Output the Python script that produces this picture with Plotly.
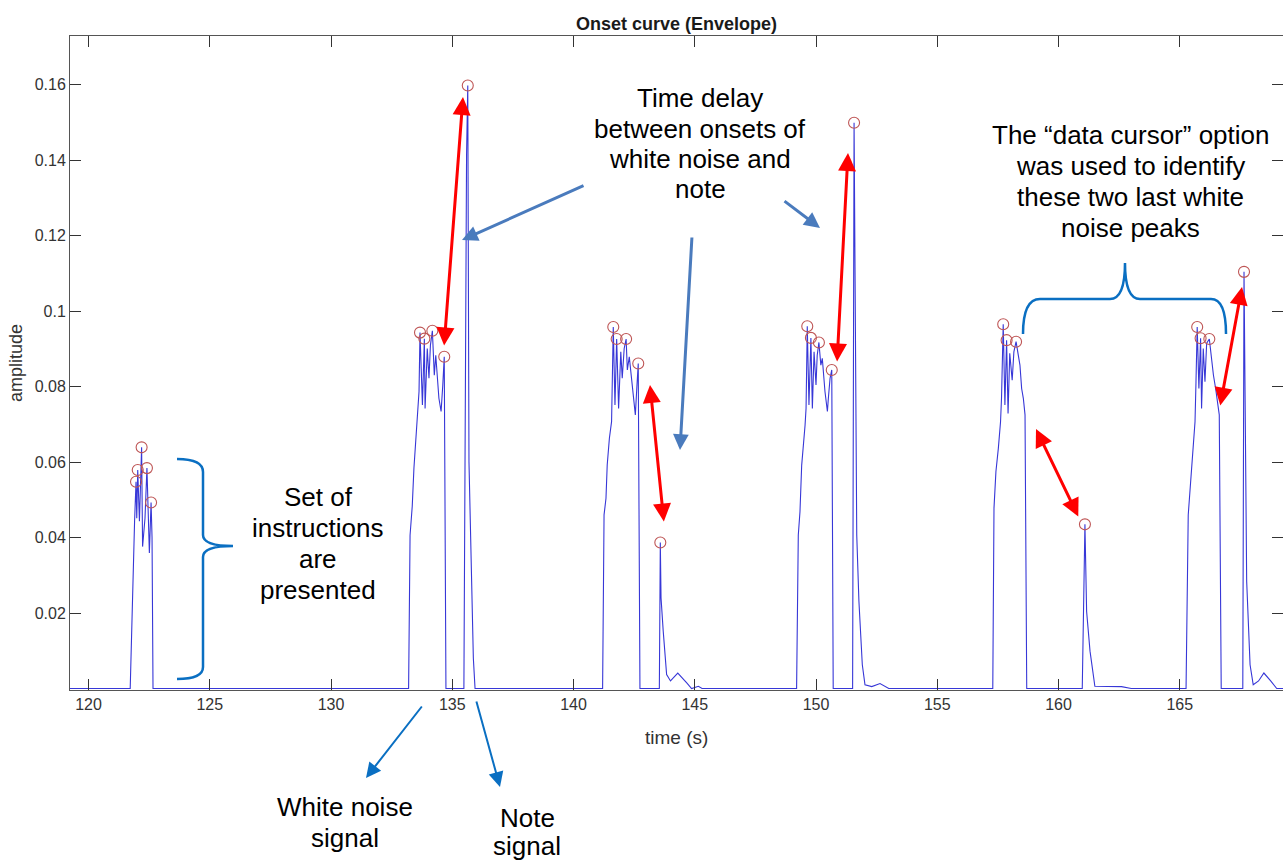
import plotly.graph_objects as go

# ---------------- data ----------------
b1_t = [121.72, 121.90, 121.96, 121.99, 122.03, 122.10, 122.19, 122.23, 122.33, 122.41, 122.47, 122.51, 122.58, 122.62, 122.66]
b1_a = [0.0, 0.0443, 0.0548, 0.0451, 0.0579, 0.0443, 0.0639, 0.0376, 0.0451, 0.0584, 0.0390, 0.0359, 0.0493, 0.0400, 0.0]

b2_t = [133.20, 133.26, 133.35, 133.42, 133.58, 133.63, 133.67, 133.77, 133.85, 133.88, 133.97, 134.04, 134.10, 134.18,
        134.26, 134.32, 134.45, 134.54, 134.61, 134.67, 134.74,
        135.48, 135.59, 135.64, 135.69, 135.75, 135.80, 135.87, 135.94]
b2_a = [0.0, 0.0406, 0.0483, 0.0584, 0.0725, 0.0787, 0.0943, 0.0751, 0.0927, 0.0742, 0.0901, 0.0822, 0.0910, 0.0948,
        0.0830, 0.0883, 0.0769, 0.0734, 0.0804, 0.0879, 0.0,
        0.0, 0.1413, 0.1598, 0.0600, 0.0400, 0.0230, 0.0080, 0.0]

b3_t = [141.20, 141.26, 141.34, 141.39, 141.48, 141.57, 141.61, 141.64, 141.71, 141.78, 141.86, 141.95, 142.01, 142.09,
        142.17, 142.22, 142.30, 142.40, 142.47, 142.55, 142.61, 142.67, 142.74,
        143.54, 143.58, 143.61, 143.70, 143.84, 144.00, 144.30, 144.67, 144.87, 145.15, 145.30]
b3_a = [0.0, 0.0460, 0.0504, 0.0592, 0.0663, 0.0707, 0.0813, 0.0958, 0.0751, 0.0926, 0.0742, 0.0892, 0.0822, 0.0901,
        0.0926, 0.0844, 0.0879, 0.0822, 0.0769, 0.0725, 0.0795, 0.0861, 0.0,
        0.0, 0.0387, 0.0240, 0.0152, 0.0037, 0.0020, 0.0041, 0.0015, 0.0, 0.0006, 0.0]

b4_t = [149.20, 149.27, 149.34, 149.41, 149.55, 149.59, 149.64, 149.71, 149.79, 149.85, 149.92, 150.00, 150.05, 150.12,
        150.20, 150.26, 150.37, 150.47, 150.51, 150.58, 150.65, 150.71,
        151.51, 151.57, 151.68, 151.77, 151.91, 152.02, 152.30, 152.64, 153.00]
b4_a = [0.0, 0.0407, 0.0469, 0.0592, 0.0698, 0.0742, 0.0960, 0.0751, 0.0929, 0.0742, 0.0892, 0.0804, 0.0883, 0.0917,
        0.0857, 0.0875, 0.0787, 0.0734, 0.0769, 0.0822, 0.0844, 0.0,
        0.0, 0.1499, 0.0407, 0.0231, 0.0063, 0.0010, 0.0005, 0.0013, 0.0]

b5_t = [157.29, 157.34, 157.42, 157.52, 157.61, 157.65, 157.72, 157.79, 157.86, 157.92, 157.99, 158.09, 158.16, 158.25,
        158.34, 158.41, 158.48, 158.55, 158.62, 158.69,
        160.98, 161.09, 161.16, 161.30, 161.50, 162.00, 162.60, 163.00]
b5_a = [0.0, 0.0478, 0.0575, 0.0637, 0.0707, 0.0769, 0.0965, 0.0751, 0.0923, 0.0729, 0.0888, 0.0817, 0.0892, 0.0919,
        0.0879, 0.0857, 0.0795, 0.0769, 0.0725, 0.0,
        0.0, 0.0435, 0.0204, 0.0099, 0.0006, 0.0006, 0.0005, 0.0]

b6_t = [165.26, 165.35, 165.49, 165.56, 165.63, 165.67, 165.72, 165.79, 165.86, 165.90, 165.97, 166.04, 166.11, 166.22,
        166.32, 166.39, 166.48, 166.56, 166.63, 166.71,
        167.60, 167.65, 167.69, 167.76, 167.90, 168.03, 168.25, 168.47, 168.75, 169.00, 169.40]
b6_a = [0.0, 0.0460, 0.0575, 0.0637, 0.0707, 0.0813, 0.0958, 0.0795, 0.0928, 0.0742, 0.0901, 0.0813, 0.0915, 0.0926,
        0.0866, 0.0830, 0.0795, 0.0751, 0.0725, 0.0,
        0.0, 0.1104, 0.0814, 0.0284, 0.0063, 0.0010, 0.0020, 0.0041, 0.0020, 0.0, 0.0]

peak_t = [121.96, 122.03, 122.19, 122.41, 122.58,
          133.67, 133.85, 134.18, 134.67, 135.64,
          141.64, 141.78, 142.17, 142.67, 143.58,
          149.64, 149.79, 150.12, 150.65, 151.57,
          157.72, 157.86, 158.25, 161.09,
          165.72, 165.86, 166.22, 167.65]
peak_a = [0.0548, 0.0579, 0.0639, 0.0584, 0.0493,
          0.0943, 0.0927, 0.0948, 0.0879, 0.1598,
          0.0958, 0.0926, 0.0926, 0.0861, 0.0387,
          0.0960, 0.0929, 0.0917, 0.0844, 0.1499,
          0.0965, 0.0923, 0.0919, 0.0435,
          0.0958, 0.0928, 0.0926, 0.1104]

x_ticks = [120, 125, 130, 135, 140, 145, 150, 155, 160, 165]
y_ticks = [0.02, 0.04, 0.06, 0.08, 0.1, 0.12, 0.14, 0.16]
y_tick_labels = ["0.02", "0.04", "0.06", "0.08", "0.1", "0.12", "0.14", "0.16"]

time_s = [119.0] + b1_t + b2_t + b3_t + b4_t + b5_t + b6_t
amplitude = [0.0] + b1_a + b2_a + b3_a + b4_a + b5_a + b6_a

# ---------------- layout helpers ----------------
W, H = 1283, 861
L, R, T, B = 70, 0, 36, 171
PW, PH = W - L - R, H - T - B


def P(px, py):
    return (px - L) / PW, (H - B - py) / PH


def ps(px, py):
    x, y = P(px, py)
    return f"{x:.5f},{y:.5f}"


FONT = "Liberation Sans, Arial, sans-serif"

fig = go.Figure()
fig.add_trace(go.Scatter(x=time_s, y=amplitude, mode="lines",
                         line=dict(color="rgb(55,55,215)", width=1.1), hoverinfo="skip"))
fig.add_trace(go.Scatter(x=peak_t, y=peak_a, mode="markers",
                         marker=dict(symbol="circle-open", size=11, color="rgb(190,85,85)",
                                     line=dict(width=1.1)), hoverinfo="skip"))

annotations = []

# title and axis labels
tx, ty = P(676, 24)
annotations.append(dict(x=tx, y=ty, xref="paper", yref="paper", text="<b>Onset curve (Envelope)</b>",
                        showarrow=False, font=dict(family=FONT, size=18, color="#1a1a1a"),
                        xanchor="center", yanchor="middle"))
tx, ty = P(676, 737)
annotations.append(dict(x=tx, y=ty, xref="paper", yref="paper", text="time (s)",
                        showarrow=False, font=dict(family=FONT, size=19, color="#333333"),
                        xanchor="center", yanchor="middle"))
tx, ty = P(16, 363)
annotations.append(dict(x=tx, y=ty, xref="paper", yref="paper", text="amplitude", textangle=-90,
                        showarrow=False, font=dict(family=FONT, size=18, color="#333333"),
                        xanchor="center", yanchor="middle"))

# annotation text blocks (one annotation per line)
text_blocks = [
    (318, [497, 528, 559, 590], ["Set of", "instructions", "are", "presented"]),
    (700, [98, 129, 159, 189], ["Time delay", "between onsets of", "white noise and", "note"]),
    (1130, [135, 166, 197, 228], ["The \u201cdata cursor\u201d option", "was used to identify",
                                  "these two last white", "noise peaks"]),
    (345, [807, 838], ["White noise", "signal"]),
    (527, [818, 846], ["Note", "signal"]),
]
for cx, ys, lines in text_blocks:
    for yy, line in zip(ys, lines):
        ax_, ay_ = P(cx, yy)
        annotations.append(dict(x=ax_, y=ay_, xref="paper", yref="paper", text=line, showarrow=False,
                                font=dict(family=FONT, size=26, color="black"),
                                xanchor="center", yanchor="middle"))

# red double-headed arrows (head A, head B) in pixels
red_arrows = [((463, 97), (444, 347)), ((650, 385), (664, 523)), ((848, 153), (837, 363)),
              ((1036, 429), (1079, 518)), ((1242, 287), (1220, 407))]
for (hx, hy), (tx_, ty_) in red_arrows:
    x, y = P(hx, hy)
    annotations.append(dict(x=x, y=y, xref="paper", yref="paper", ax=tx_ - hx, ay=ty_ - hy,
                            axref="pixel", ayref="pixel", showarrow=True, text="",
                            arrowhead=2, startarrowhead=2, arrowside="end+start",
                            arrowsize=1.2, startarrowsize=1.2, arrowwidth=3, arrowcolor="#ff0000"))

# blue arrows: (tail, head, color, width)
blue_arrows = [((585, 185), (462, 240), "#4a7bbd", 3), ((692, 236), (680, 450), "#4a7bbd", 3),
               ((783, 200), (820, 228), "#4a7bbd", 3),
               ((423, 705), (366, 778), "#0a6fc2", 2), ((476, 700), (500, 787), "#0a6fc2", 2)]
for (tx_, ty_), (hx, hy), col, wd in blue_arrows:
    x, y = P(hx, hy)
    annotations.append(dict(x=x, y=y, xref="paper", yref="paper", ax=tx_ - hx, ay=ty_ - hy,
                            axref="pixel", ayref="pixel", showarrow=True, text="",
                            arrowhead=2, arrowsize=1.05 if wd == 3 else 1.5, arrowwidth=wd, arrowcolor=col))

# braces
brace1 = (f"M{ps(177,459)} Q{ps(203,459)} {ps(203,472)} L{ps(203,535)} Q{ps(203,546)} {ps(233,546)} "
          f"Q{ps(203,546)} {ps(203,557)} L{ps(203,667)} Q{ps(203,679)} {ps(177,679)}")
brace2 = (f"M{ps(1023,334)} Q{ps(1023,299)} {ps(1040,299)} L{ps(1110,299)} Q{ps(1125,299)} {ps(1125,263)} "
          f"Q{ps(1125,299)} {ps(1140,299)} L{ps(1211,299)} Q{ps(1226,299)} {ps(1226,334)}")
shapes = [dict(type="path", path=brace1, xref="paper", yref="paper", line=dict(color="#0a6fc2", width=2.5)),
          dict(type="path", path=brace2, xref="paper", yref="paper", line=dict(color="#0a6fc2", width=2.5))]

axis_common = dict(showgrid=False, zeroline=False, showline=True, mirror="ticks", linecolor="#555555",
                   linewidth=1, ticks="inside", ticklen=11, tickcolor="#333333", tickwidth=1,
                   tickfont=dict(family=FONT, size=16, color="#333333"))

fig.update_layout(
    width=W, height=H, margin=dict(l=L, r=R, t=T, b=B, autoexpand=False),
    plot_bgcolor="white", paper_bgcolor="white", showlegend=False,
    xaxis=dict(range=[119.237, 169.258], tickvals=x_ticks, ticktext=[str(v) for v in x_ticks], **axis_common),
    yaxis=dict(range=[-0.0004, 0.1729], tickvals=y_ticks, ticktext=y_tick_labels, **axis_common),
    annotations=annotations, shapes=shapes,
)

fig.write_html("out.html")
